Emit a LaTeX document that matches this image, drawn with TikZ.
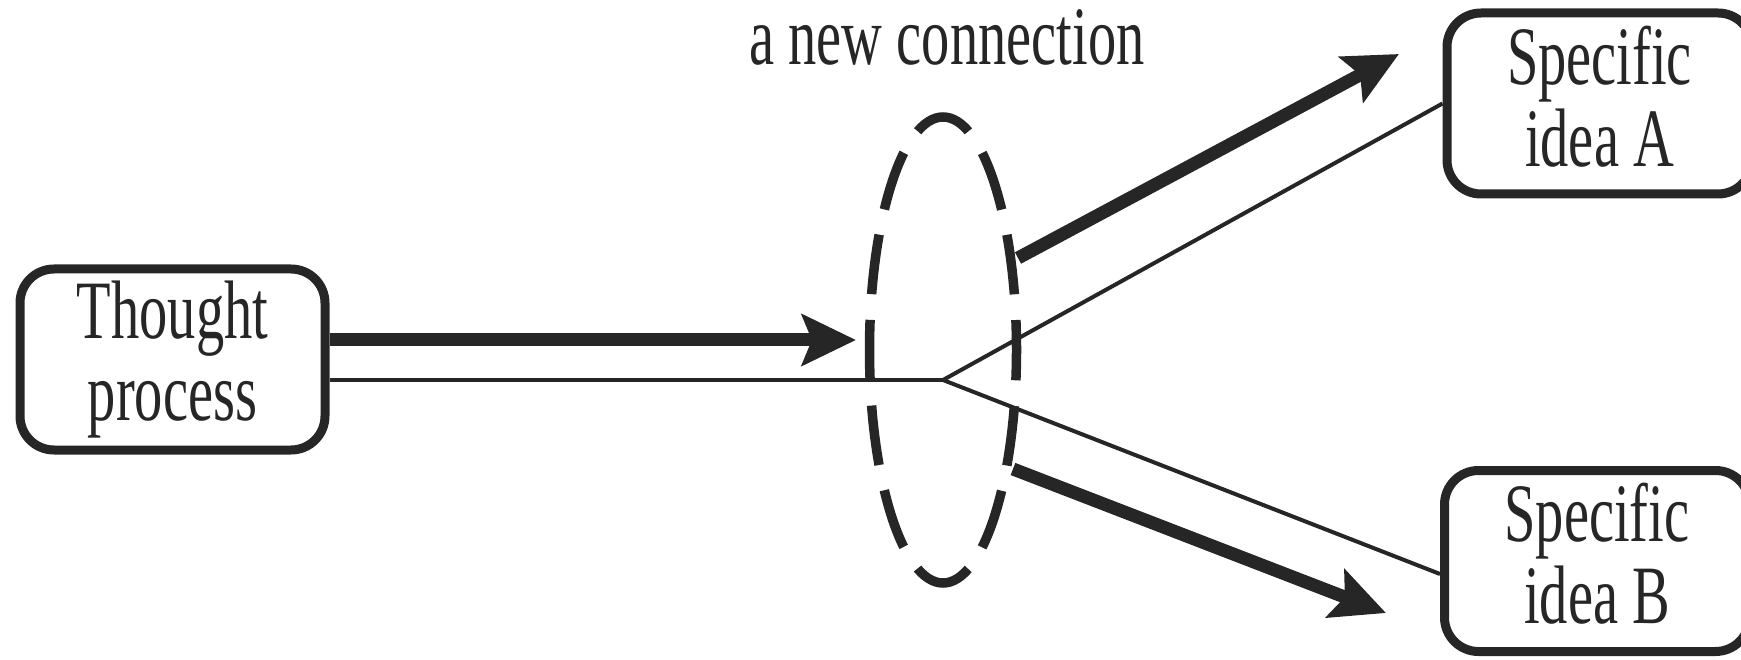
\documentclass[tikz,border=0pt]{standalone}
\usepackage{fontspec}
\newfontfamily\condserif[FakeStretch=0.68]{Liberation Serif}
\usetikzlibrary{arrows.meta,shapes.geometric}
\definecolor{ink}{RGB}{38,38,38}
\newcommand\ystrut{\rule[-15pt]{0pt}{72pt}}
\begin{document}
\begin{tikzpicture}[x=1pt,y=-1pt,
  ideabox/.style={draw=ink, line width=9pt, rounded corners=34pt,
    minimum width=305pt, minimum height=181pt, inner sep=0pt,
    align=center, text=ink, font=\condserif\fontsize{83}{82}\selectfont},
  captiontext/.style={text=ink, inner sep=0pt, font=\condserif\fontsize{83}{82}\selectfont},
  ringnode/.style={ellipse, draw=ink, line width=9.5pt, inner sep=0pt,
    minimum width=147pt, minimum height=466pt,
    dash pattern=on 60pt off 25.75pt, dash phase=30pt},
  thickarrow/.style={draw=ink, line width=13pt,
    -{Stealth[length=54pt,width=51pt,inset=10pt]}},
  thinline/.style={draw=ink, line width=4pt},
]
\path[use as bounding box] (0,0) rectangle (1741,660);
\clip (0,0) rectangle (1741,660);

\node[ideabox] (T) at (172.5,359.5) {\ystrut Thought\\\ystrut process};
\node[ideabox] (A) at (1599.5,103.5) {\ystrut Specific\\\ystrut idea A};
\node[ideabox] (B) at (1597,561) {\ystrut Specific\\\ystrut idea B};

\node[ringnode] (E) at (943,350) {};
\node[captiontext, anchor=base] (cap) at (947,65) {a new connection};

\coordinate (hub) at (943,380);
\coordinate (ta) at (856,340);
\coordinate (a0) at (1018,258);
\coordinate (a1) at (1399,54);
\coordinate (b0) at (1013,469);
\coordinate (b1) at (1386,613);

% thin lines
\draw[thinline] ([yshift=-20.5pt]T.east) -- (hub);
\draw[thinline] (hub) -- (A.west);
\draw[thinline] (hub) -- ([yshift=-13pt]B.west);

% thick arrows
\draw[thickarrow] ([yshift=19.5pt]T.east) -- (ta);
\draw[thickarrow] (a0) -- (a1);
\draw[thickarrow] (b0) -- (b1);
\end{tikzpicture}
\end{document}
